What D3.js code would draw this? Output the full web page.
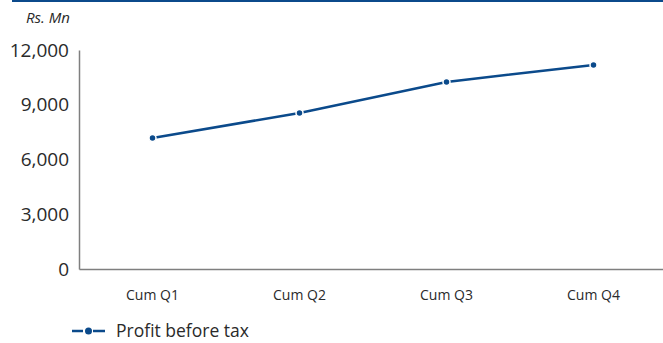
<!DOCTYPE html>
<html>
<head>
<meta charset="utf-8">
<script src="https://cdn.jsdelivr.net/npm/d3@7/dist/d3.min.js"></script>
<style>
  html, body { margin: 0; padding: 0; background: #fff; }
  svg { display: block; font-family: "Open Sans", "Noto Sans", sans-serif; }
</style>
</head>
<body>
<svg id="chart" width="663" height="343"></svg>
<script>
// Profit before tax, cumulative by quarter (Rs. Mn)
const categories = ["Cum Q1", "Cum Q2", "Cum Q3", "Cum Q4"];
const profitBeforeTax = [7180, 8550, 10250, 11180];
const yTicks = [0, 3000, 6000, 9000, 12000];
const seriesName = "Profit before tax";
const unitLabel = "Rs. Mn";

const color = "#0b4a8b";
const axisColor = "#7f7f7f";
const textColor = "#2a2a2a";
const font = "'Open Sans', 'Noto Sans', sans-serif";

const svg = d3.select("#chart");
const W = 663, H = 343;
const margin = { left: 79, right: -4, top: 50, bottom: 74 };

// Header rule across the top
svg.append("line")
  .attr("x1", 12).attr("x2", W).attr("y1", 1).attr("y2", 1)
  .attr("stroke", color).attr("stroke-width", 2);

const x = d3.scaleBand()
  .domain(categories)
  .range([margin.left, W - margin.right]);

const y = d3.scaleLinear()
  .domain([0, 12000])
  .range([H - margin.bottom, margin.top]);

// Unit label
svg.append("text")
  .attr("x", 26).attr("y", 23)
  .attr("font-size", 15).attr("font-style", "italic")
  .attr("fill", textColor)
  .text(unitLabel);

// Y axis
const yAxis = svg.append("g")
  .attr("transform", `translate(${margin.left},0)`)
  .call(d3.axisLeft(y).tickValues(yTicks).tickSize(0).tickPadding(10)
    .tickFormat(d3.format(",")));
yAxis.select(".domain").attr("stroke", axisColor).attr("stroke-width", 1.5);
yAxis.selectAll("text").attr("font-size", 19).attr("fill", textColor)
  .attr("font-family", font);

// X axis
const xAxis = svg.append("g")
  .attr("transform", `translate(0,${y(0)})`)
  .call(d3.axisBottom(x).tickSize(0).tickPadding(21));
xAxis.select(".domain").attr("stroke", axisColor).attr("stroke-width", 1.5);
xAxis.selectAll("text").attr("font-size", 14).attr("fill", textColor)
  .attr("font-family", font);

// Series line
const pts = categories.map((c, i) => [x(c) + x.bandwidth() / 2, y(profitBeforeTax[i])]);
svg.append("path")
  .datum(pts)
  .attr("fill", "none")
  .attr("stroke", color)
  .attr("stroke-width", 2.5)
  .attr("d", d3.line());

// Markers with white halo
svg.selectAll("circle.pt")
  .data(pts)
  .join("circle")
  .attr("class", "pt")
  .attr("cx", d => d[0]).attr("cy", d => d[1])
  .attr("r", 3.5)
  .attr("fill", color)
  .attr("stroke", "#fff").attr("stroke-width", 1.5);

// Legend
const lg = svg.append("g").attr("transform", "translate(72,331)");
lg.append("line").attr("x1", 0).attr("x2", 11).attr("stroke", color).attr("stroke-width", 2.5);
lg.append("line").attr("x1", 21).attr("x2", 33).attr("stroke", color).attr("stroke-width", 2.5);
lg.append("circle").attr("cx", 16.5).attr("cy", 0).attr("r", 3.5).attr("fill", color);
lg.append("text")
  .attr("x", 44).attr("y", 0).attr("dy", "0.35em")
  .attr("font-size", 17.5).attr("fill", textColor)
  .text(seriesName);
</script>
</body>
</html>
